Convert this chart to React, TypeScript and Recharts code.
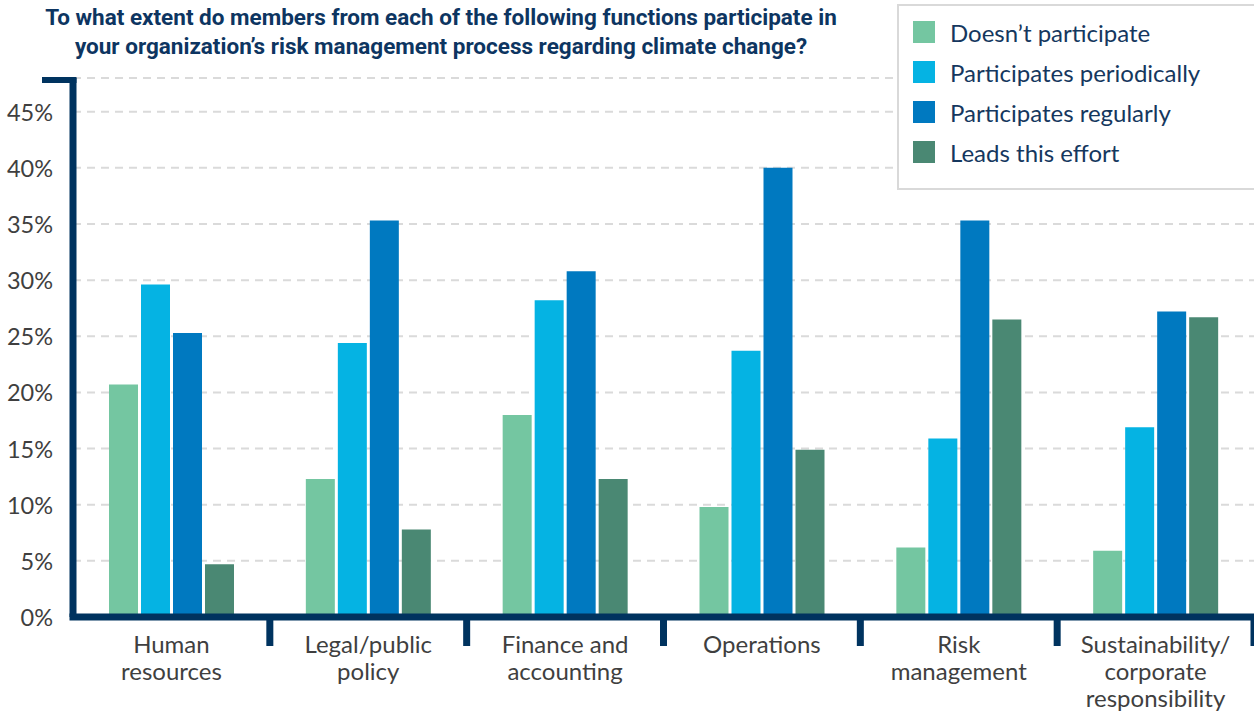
import React from 'react';
import { BarChart, Bar, XAxis, YAxis, CartesianGrid, Legend } from 'recharts';

// survey functions (x axis), split on line breaks
const categories = [
  'Human\nresources',
  'Legal/public\npolicy',
  'Finance and\naccounting',
  'Operations',
  'Risk\nmanagement',
  'Sustainability/\ncorporate\nresponsibility',
];

const doesntParticipate = [20.7, 12.3, 18.0, 9.8, 6.2, 5.9];
const participatesPeriodically = [29.6, 24.4, 28.2, 23.7, 15.9, 16.9];
const participatesRegularly = [25.3, 35.3, 30.8, 40.0, 35.3, 27.2];
const leadsThisEffort = [4.7, 7.8, 12.3, 14.9, 26.5, 26.7];

const yTicks = [0, 5, 10, 15, 20, 25, 30, 35, 40, 45];

const series = [
  { key: 'dont', name: 'Doesn\u2019t participate', color: '#74C6A1' },
  { key: 'periodic', name: 'Participates periodically', color: '#05B3E3' },
  { key: 'regular', name: 'Participates regularly', color: '#0079C0' },
  { key: 'leads', name: 'Leads this effort', color: '#4A8873' },
];

const data = categories.map((c, i) => ({
  name: c,
  dont: doesntParticipate[i],
  periodic: participatesPeriodically[i],
  regular: participatesRegularly[i],
  leads: leadsThisEffort[i],
}));

const W = 1254;
const H = 713;
const TOP = 78;
const Y_AXIS_W = 73;
const X_AXIS_H = 96;
const NAVY = '#00335F';
const BAND = (W - Y_AXIS_W) / categories.length;
const FONT = 'Lato, "Noto Sans", sans-serif';

const XTick = (props: any) => {
  const { x, y, payload } = props;
  const lines = String(payload.value).split('\n');
  return (
    <g>
      <rect x={x + BAND / 2 - 3.5} y={y} width={7} height={29} fill={NAVY} />
      {lines.map((l, i) => (
        <text
          key={i}
          x={x}
          y={y + 26 + i * 27}
          textAnchor="middle"
          dominantBaseline="central"
          fill="#3f3f3f"
          fontSize={24}
          fontFamily={FONT}
        >
          {l}
        </text>
      ))}
    </g>
  );
};

const YTick = (props: any) => {
  const { x, y, payload, index } = props;
  return (
    <g>
      {index === yTicks.length - 1 && (
        <rect x={42} y={TOP - 1} width={34.5} height={6} fill={NAVY} />
      )}
      <text
        x={x - 20}
        y={y}
        textAnchor="end"
        dominantBaseline="central"
        fill="#3f3f3f"
        fontSize={23.5}
        fontFamily={FONT}
      >
        {payload.value}%
      </text>
    </g>
  );
};

const LegendBox = () => (
  <div
    style={{
      border: '2px solid #d9d9d9',
      boxSizing: 'border-box',
      width: 380,
      height: 186,
      padding: '6px 0 0 14px',
      background: '#fff',
    }}
  >
    {series.map((s) => (
      <div key={s.key} style={{ display: 'flex', alignItems: 'center', height: 40 }}>
        <span style={{ width: 22, height: 22, background: s.color, display: 'inline-block' }} />
        <span
          style={{
            marginLeft: 15,
            fontFamily: FONT,
            fontSize: 24,
            color: '#15375E',
            whiteSpace: 'nowrap',
          }}
        >
          {s.name}
        </span>
      </div>
    ))}
  </div>
);

export default function App() {
  return (
    <div style={{ position: 'absolute', left: 0, top: 0, width: W, height: H, background: '#fff' }}>
      <div
        style={{
          position: 'absolute',
          left: 0,
          top: 3,
          width: 882,
          textAlign: 'center',
          fontFamily: 'Roboto, sans-serif',
          fontWeight: 700,
          fontSize: 22.5,
          lineHeight: '29px',
          color: '#0D3561',
          zIndex: 2,
          transform: 'scaleX(1)',
        }}
      >
        To what extent do members from each of the following functions participate in
        <br />
        your organization’s risk management process regarding climate change?
      </div>
      <BarChart
        width={W}
        height={H}
        data={data}
        margin={{ top: TOP, right: 0, bottom: 0, left: 0 }}
        barCategoryGap={36}
        barGap={3}
      >
        <CartesianGrid
          vertical={false}
          stroke="#dadada"
          strokeWidth={2}
          strokeDasharray="8 6"
        />
        <XAxis
          dataKey="name"
          height={X_AXIS_H}
          interval={0}
          tickSize={0}
          tickMargin={0}
          tickLine={false}
          tick={<XTick />}
          axisLine={{ stroke: NAVY, strokeWidth: 7, strokeLinecap: 'square' }}
        />
        <YAxis
          width={Y_AXIS_W}
          domain={[0, 48]}
          ticks={yTicks}
          interval={0}
          tickSize={0}
          tickMargin={0}
          tickLine={false}
          tick={<YTick />}
          axisLine={{ stroke: NAVY, strokeWidth: 7 }}
        />
        <Legend
          layout="vertical"
          align="center"
          verticalAlign="middle"
          content={<LegendBox />}
          wrapperStyle={{ top: 4, left: 897, width: 380, height: 186 }}
        />
        {series.map((s) => (
          <Bar key={s.key} dataKey={s.key} name={s.name} fill={s.color} isAnimationActive={false} />
        ))}
      </BarChart>
    </div>
  );
}
